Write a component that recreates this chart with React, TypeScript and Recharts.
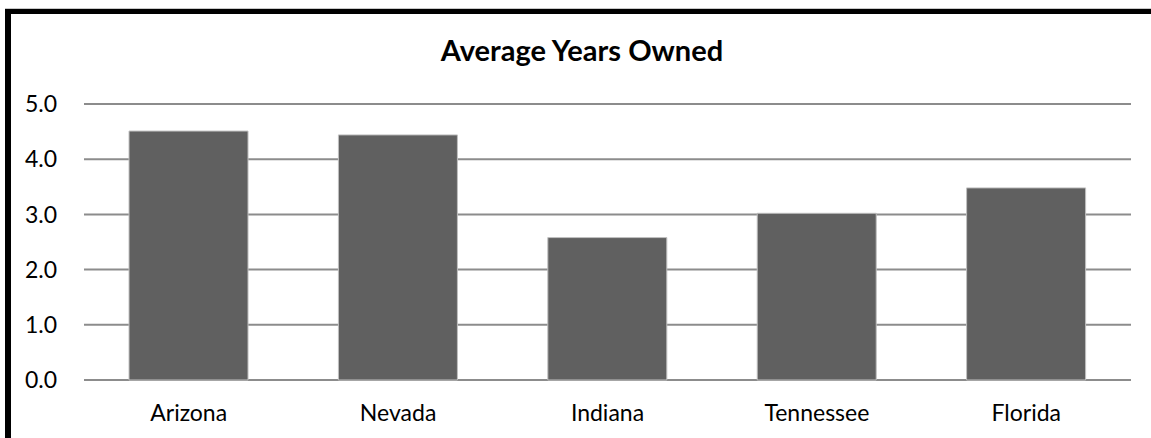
import { Bar, BarChart, CartesianGrid, XAxis, YAxis } from 'recharts';

const states = ['Arizona', 'Nevada', 'Indiana', 'Tennessee', 'Florida'];
const avgYears = [4.51, 4.44, 2.58, 3.02, 3.48];
const yTicks = [0, 1, 2, 3, 4, 5];

const data = states.map((state, i) => ({ state, years: avgYears[i] }));

const FONT = 'Lato, "Open Sans", sans-serif';

export default function App() {
  return (
    <div style={{ position: 'absolute', left: 0, top: 0, width: 1151, height: 438, overflow: 'hidden', background: '#fff' }}>
      <div
        style={{
          position: 'absolute',
          left: 5,
          top: 9,
          width: 1200,
          height: 500,
          borderLeft: '6px solid #000',
          borderTop: '5px solid #000',
          boxShadow: '0 -1px 0 #c8c8c8',
        }}
      />
      <div
        style={{
          position: 'absolute',
          left: 382,
          width: 400,
          top: 32,
          textAlign: 'center',
          fontFamily: FONT,
          fontWeight: 700,
          fontSize: 29,
          color: '#000',
        }}
      >
        Average Years Owned
      </div>
      <div style={{ position: 'absolute', left: 0, top: 0 }}>
        <BarChart width={1151} height={438} data={data} margin={{ top: 104, right: 20, left: 0, bottom: 0 }} barCategoryGap="21.5%">
          <CartesianGrid stroke="#8c8c8c" strokeWidth={2} vertical={false} />
          <XAxis
            dataKey="state"
            height={58}
            axisLine={false}
            tickLine={false}
            tickMargin={19}
            tick={{ fontSize: 23, fill: '#000', fontFamily: FONT }}
          />
          <YAxis
            width={84}
            domain={[0, 5]}
            ticks={yTicks}
            axisLine={false}
            tickLine={false}
            tickMargin={21}
            tickFormatter={(v: number) => v.toFixed(1)}
            tick={{ fontSize: 23, fill: '#000', fontFamily: FONT }}
          />
          <Bar dataKey="years" fill="#606060" stroke="#c0c0c0" strokeWidth={1} isAnimationActive={false} />
        </BarChart>
      </div>
    </div>
  );
}
